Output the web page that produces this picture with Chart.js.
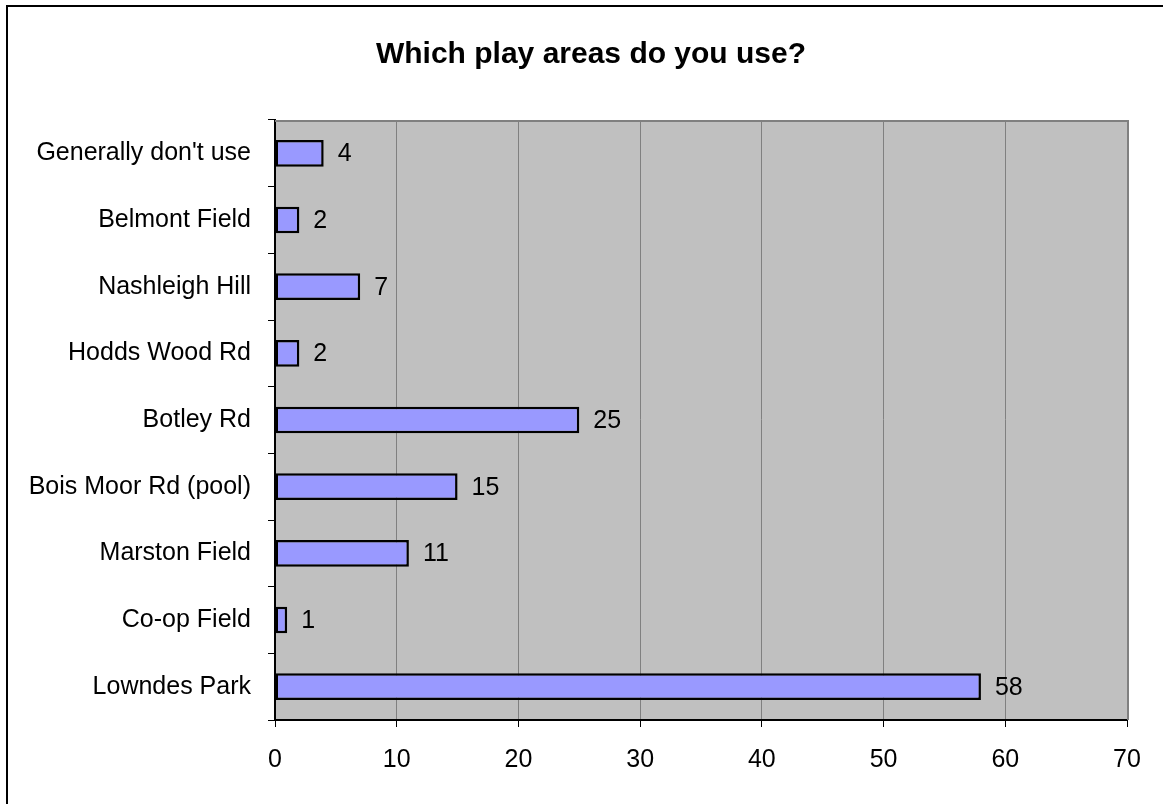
<!DOCTYPE html>
<html>
<head>
<meta charset="utf-8">
<title>Which play areas do you use?</title>
<script src="https://cdn.jsdelivr.net/npm/chart.js@4/dist/chart.umd.min.js"></script>
<style>
  html, body { margin: 0; padding: 0; background: #fff; }
  #wrap { width: 1163px; height: 804px; }
</style>
</head>
<body>
<div id="wrap"><canvas id="playChart" width="1163" height="804"></canvas></div>
<script>
const chartTitle = 'Which play areas do you use?';
const areas = ['Generally don\'t use', 'Belmont Field', 'Nashleigh Hill', 'Hodds Wood Rd', 'Botley Rd',
  'Bois Moor Rd (pool)', 'Marston Field', 'Co-op Field', 'Lowndes Park'];
const counts = [4, 2, 7, 2, 25, 15, 11, 1, 58];
const xTicks = [0, 10, 20, 30, 40, 50, 60, 70];

const fontFamily = '"Liberation Sans", Arial, sans-serif';

// frame, grey plot background, title
const backdrop = {
  id: 'backdrop',
  beforeDraw(chart) {
    const { ctx, chartArea: a } = chart;
    ctx.save();
    ctx.fillStyle = '#fff';
    ctx.fillRect(0, 0, chart.width, chart.height);
    ctx.strokeStyle = '#000';
    ctx.lineWidth = 2;
    ctx.strokeRect(7, 6, chart.width + 20, chart.height + 20);
    ctx.fillStyle = '#c0c0c0';
    ctx.fillRect(a.left, a.top, a.right - a.left, a.bottom - a.top);
    ctx.fillStyle = '#000';
    ctx.font = 'bold 30px ' + fontFamily;
    ctx.textAlign = 'center';
    ctx.textBaseline = 'alphabetic';
    ctx.fillText(chartTitle, 591, 63);
    ctx.restore();
  },
  beforeDatasetsDraw(chart) {
    // top and right edge of the plot box
    const { ctx, chartArea: a } = chart;
    ctx.save();
    ctx.strokeStyle = '#808080';
    ctx.lineWidth = 2;
    ctx.beginPath();
    ctx.moveTo(a.left, a.top + 1);
    ctx.lineTo(a.right + 1, a.top + 1);
    ctx.lineTo(a.right + 1, a.bottom);
    ctx.stroke();
    ctx.restore();
  }
};

// value printed just past the end of each bar
const valueLabels = {
  id: 'valueLabels',
  afterDatasetsDraw(chart) {
    const { ctx } = chart;
    const meta = chart.getDatasetMeta(0);
    ctx.save();
    ctx.fillStyle = '#000';
    ctx.font = '25px ' + fontFamily;
    ctx.textAlign = 'left';
    ctx.textBaseline = 'middle';
    meta.data.forEach((bar, i) => {
      ctx.fillText(String(counts[i]), bar.x + 14, bar.y + 1);
    });
    ctx.restore();
  }
};

new Chart(document.getElementById('playChart'), {
  type: 'bar',
  data: {
    labels: areas,
    datasets: [{
      data: counts,
      backgroundColor: '#9999ff',
      borderColor: '#000',
      borderWidth: 2.5,
      borderSkipped: false,
      barPercentage: 0.4,
      categoryPercentage: 1
    }]
  },
  options: {
    indexAxis: 'y',
    responsive: false,
    animation: false,
    layout: { padding: { top: 120, right: 36, left: 0, bottom: 0 } },
    plugins: {
      legend: { display: false },
      title: { display: false },
      tooltip: { enabled: false }
    },
    scales: {
      x: {
        min: 0,
        max: 70,
        afterBuildTicks(scale) {
          scale.ticks = xTicks.map(v => ({ value: v }));
        },
        afterFit(scale) { scale.height = 84; },
        grid: {
          color: '#808080',
          lineWidth: 1,
          tickColor: '#000',
          tickLength: 7
        },
        border: { color: '#000', width: 2 },
        ticks: {
          color: '#000',
          padding: 18,
          font: { family: fontFamily, size: 25 }
        }
      },
      y: {
        afterFit(scale) { scale.width = 275; },
        grid: {
          drawOnChartArea: false,
          offset: true,
          tickColor: '#000',
          tickLength: 7
        },
        border: { color: '#000', width: 2 },
        ticks: {
          color: '#000',
          padding: 17,
          font: { family: fontFamily, size: 25 }
        }
      }
    }
  },
  plugins: [backdrop, valueLabels]
});
</script>
</body>
</html>
